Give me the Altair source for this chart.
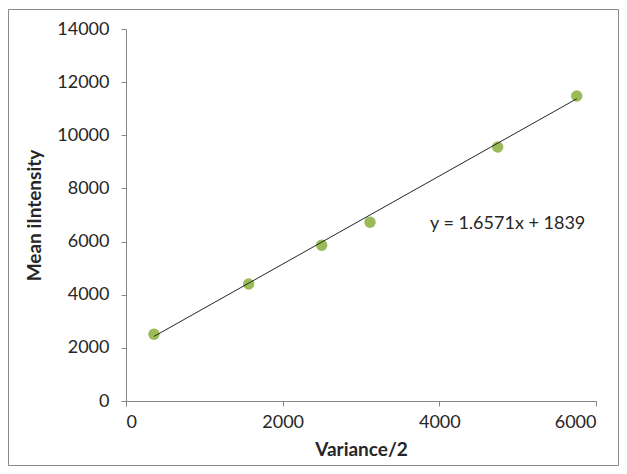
import altair as alt
import pandas as pd

variance_half = [357, 1566, 2498, 3115, 4745, 5754]
mean_intensity = [2510, 4403, 5860, 6726, 9560, 11479]

slope = 1.6571
intercept = 1839
equation_label = ["y = 1.6571x + 1839"]
label_x = [3880]
label_y = [6660]

x_ticks = [0, 2000, 4000, 6000]
y_ticks = [0, 2000, 4000, 6000, 8000, 10000, 12000, 14000]

FONT = "Lato"
GRAY = "#868686"
W, H = 470, 372
PAD = {"left": 118, "top": 21, "right": 23, "bottom": 65}

pts = pd.DataFrame({"x": variance_half, "y": mean_intensity})
xs = [min(variance_half), max(variance_half)]
trend = pd.DataFrame({"x": xs, "y": [slope * v + intercept for v in xs]})
lab = pd.DataFrame({"x": label_x, "y": label_y, "t": equation_label})

xscale = alt.Scale(domain=[0, 6000], nice=False)
yscale = alt.Scale(domain=[0, 14000], nice=False)

xaxis = alt.Axis(title="Variance/2", values=x_ticks, grid=False, domainColor=GRAY,
                 tickColor=GRAY, tickSize=5, labelFont=FONT, labelFontSize=18,
                 labelColor="#262626", labelPadding=7, titleFont=FONT, titleFontSize=19,
                 titleFontWeight="bold", titleColor="#262626", titlePadding=9, format="d")
yaxis = alt.Axis(title="Mean iIntensity", values=y_ticks, grid=False, domainColor=GRAY,
                 tickColor=GRAY, tickSize=5, labelFont=FONT, labelFontSize=18,
                 labelColor="#262626", labelPadding=12, titleFont=FONT, titleFontSize=19,
                 titleFontWeight="bold", titleColor="#262626", titlePadding=12, format="d")

border = alt.Chart(pd.DataFrame({"a": [0]})).mark_rect(
    fill=None, stroke="#8a8a8a", strokeWidth=1, clip=False
).encode(
    x=alt.value(-PAD["left"] + 0.5), x2=alt.value(W + PAD["right"] - 0.5),
    y=alt.value(-PAD["top"] + 1.5), y2=alt.value(H + PAD["bottom"] - 0.5)
)

line = alt.Chart(trend).mark_line(color="#262626", strokeWidth=1).encode(
    x=alt.X("x:Q", scale=xscale, axis=xaxis),
    y=alt.Y("y:Q", scale=yscale, axis=yaxis),
)

points = alt.Chart(pts).mark_circle(color="#9BBB59", opacity=1, size=130).encode(
    x=alt.X("x:Q", scale=xscale),
    y=alt.Y("y:Q", scale=yscale),
)

text = alt.Chart(lab).mark_text(align="left", baseline="middle", font=FONT,
                                fontSize=18, color="#262626").encode(
    x=alt.X("x:Q", scale=xscale),
    y=alt.Y("y:Q", scale=yscale),
    text="t:N",
)

chart = alt.layer(border, points, line, text).properties(
    width=W, height=H, padding=PAD, autosize=alt.AutoSizeParams(type="none")
).configure_view(stroke=None)

chart.save("out.html", embed_options={"renderer": "svg", "actions": False})
